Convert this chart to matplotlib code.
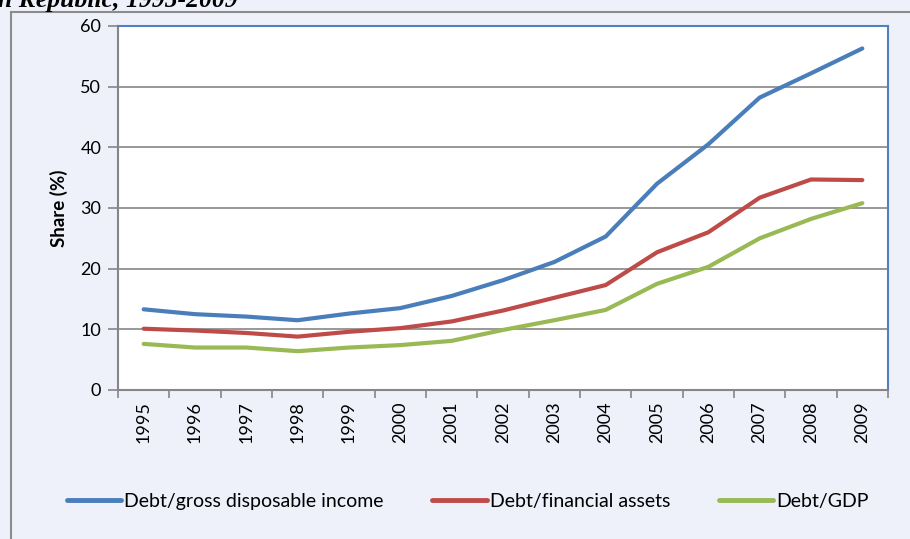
import matplotlib
matplotlib.use("Agg")
import matplotlib.pyplot as plt
from matplotlib.lines import Line2D

years = ["1995", "1996", "1997", "1998", "1999", "2000", "2001", "2002",
         "2003", "2004", "2005", "2006", "2007", "2008", "2009"]
debt_income = [13.3, 12.5, 12.1, 11.5, 12.6, 13.5, 15.5, 18.1, 21.1, 25.3,
               34.0, 40.5, 48.2, 52.2, 56.3]
debt_assets = [10.1, 9.8, 9.4, 8.8, 9.6, 10.2, 11.3, 13.1, 15.2, 17.3,
               22.7, 26.0, 31.7, 34.7, 34.6]
debt_gdp = [7.6, 7.0, 7.0, 6.4, 7.0, 7.4, 8.1, 9.9, 11.5, 13.2,
            17.5, 20.3, 25.0, 28.2, 30.8]
series_names = ["Debt/gross disposable income", "Debt/financial assets", "Debt/GDP"]
series_colors = ["#4A7EBB", "#BE4B48", "#98B954"]
yticks = [0, 10, 20, 30, 40, 50, 60]

plt.rcParams["font.family"] = ["Lato", "DejaVu Sans"]

W, H = 910, 539
fig = plt.figure(figsize=(W / 100, H / 100), dpi=100)
bg = "#EEF0FA"
fig.patch.set_facecolor(bg)

left, right, top, bottom = 118, 888, 26, 390
ax = fig.add_axes([left / W, 1 - bottom / H, (right - left) / W, (bottom - top) / H])
ax.set_facecolor("white")

x = list(range(len(years)))
for vals, name, col in zip([debt_income, debt_assets, debt_gdp], series_names, series_colors):
    ax.plot(x, vals, color=col, lw=3.0, solid_capstyle="round",
            solid_joinstyle="round", label=name, zorder=3)

ax.set_xlim(-0.5, len(years) - 0.5)
ax.set_ylim(0, 60)
ax.set_yticks(yticks)
ax.set_yticklabels([str(v) for v in yticks], fontsize=13)
ax.yaxis.grid(True, color="#868686", lw=1.2, zorder=1)
ax.tick_params(axis="y", length=7, width=1.2, color="#868686", pad=5)

# category boundaries carry the tick marks, labels sit at category centres
ax.set_xticks([i - 0.5 for i in range(len(years) + 1)])
ax.set_xticklabels([])
ax.set_xticks(x, minor=True)
ax.set_xticklabels(years, minor=True, rotation=90, fontsize=13)
ax.tick_params(axis="x", which="major", length=6, width=1.2, color="#868686")
ax.tick_params(axis="x", which="minor", length=0, pad=8)

for side in ["left", "bottom"]:
    ax.spines[side].set_color("#868686")
    ax.spines[side].set_linewidth(1.5)
for side in ["top", "right"]:
    ax.spines[side].set_color("#4F81BD")
    ax.spines[side].set_linewidth(1.5)

ax.set_ylabel("Share (%)", fontsize=13.5, fontweight="bold", labelpad=9)

handles = [Line2D([0], [0], color=c, lw=3.5, solid_capstyle="round") for c in series_colors]
fig.legend(handles, series_names, loc="center", bbox_to_anchor=(0.514, 1 - 501 / H),
           ncol=3, frameon=False, fontsize=14, handlelength=2.8,
           handletextpad=0.15, columnspacing=2.5)

# outer chart border (left and top edges)
fig.add_artist(Line2D([11 / W, 11 / W], [0, 1 - 12 / H], color="#8C8C8C", lw=1.5,
                      transform=fig.transFigure))
fig.add_artist(Line2D([11 / W, 1], [1 - 12 / H, 1 - 12 / H], color="#8C8C8C", lw=1.5,
                      transform=fig.transFigure))

fig.text(238 / W, 1 - 7 / H, "Czech Republic, 1995-2009", ha="right", va="baseline",
         fontsize=18.5, fontweight="bold", fontstyle="italic", family="Liberation Serif")

fig.savefig("out.png", dpi=100, facecolor=bg)
